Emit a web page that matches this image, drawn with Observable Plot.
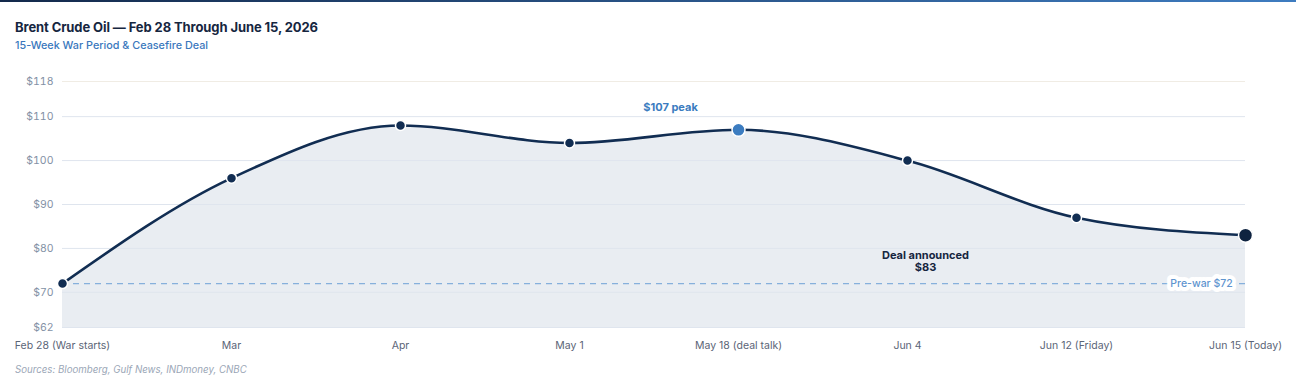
<!DOCTYPE html>
<html>
<head>
<meta charset="utf-8">
<script src="https://cdn.jsdelivr.net/npm/d3@7"></script>
<script src="https://cdn.jsdelivr.net/npm/@observablehq/plot@0.6"></script>
<style>
  html, body { margin: 0; padding: 0; background: #fff; }
  body { width: 1296px; height: 384px; overflow: hidden; font-family: Inter, "Noto Sans", sans-serif; position: relative; }
  .topbar { position: absolute; left: 0; top: 0; width: 1296px; height: 2px; background: linear-gradient(90deg, #13294b, #3e7cc0); }
  .title { position: absolute; left: 15px; top: 19px; font-size: 13px; font-weight: 700; color: #16263f; letter-spacing: -0.1px; }
  .subtitle { position: absolute; left: 15px; top: 39px; font-size: 10.8px; font-weight: 500; color: #3a78bd; }
  #chart { position: absolute; left: 0; top: 60px; }
  .caption { position: absolute; left: 15px; top: 364px; font-size: 9.7px; font-style: italic; color: #9aa6b6; }
</style>
</head>
<body>
<div class="topbar"></div>
<div class="title">Brent Crude Oil — Feb 28 Through June 15, 2026</div>
<div class="subtitle">15-Week War Period &amp; Ceasefire Deal</div>
<div id="chart"></div>
<div class="caption">Sources: Bloomberg, Gulf News, INDmoney, CNBC</div>
<script>
// Brent price checkpoints (USD per barrel)
const dates = ["Feb 28 (War starts)", "Mar", "Apr", "May 1", "May 18 (deal talk)", "Jun 4", "Jun 12 (Friday)", "Jun 15 (Today)"];
const prices = [72, 96, 108, 104, 107, 100, 87, 83];
const yTicks = [62, 70, 80, 90, 100, 110, 118];
const preWar = 72;
const peakDate = "May 18 (deal talk)";
const peakPrice = 107;
const dealDate = "Jun 4";
const dealPrice = 83;
const todayDate = "Jun 15 (Today)";

const rows = dates.map((d, i) => ({date: d, price: prices[i]}));
const regular = rows.filter(r => r.date !== peakDate && r.date !== todayDate);
const today = rows.filter(r => r.date === todayDate);
const peak = [{date: peakDate, price: peakPrice}];

const navy = "#112d52";
const blue = "#3b7cc0";

const chart = Plot.plot({
  width: 1296,
  height: 300,
  marginLeft: 62,
  marginRight: 51,
  marginTop: 21,
  marginBottom: 33,
  style: {fontFamily: "Inter, 'Noto Sans', sans-serif", fontSize: "10.5px", background: "transparent"},
  x: {type: "point", domain: dates, padding: 0, label: null},
  y: {domain: [62, 118], label: null},
  marks: [
    Plot.areaY(rows, {x: "date", y1: 62, y2: "price", curve: "monotone-x", fill: "#e9edf2"}),
    Plot.ruleY(yTicks.filter(t => t !== 118), {stroke: "#dfe5ee", strokeWidth: 1}),
    Plot.ruleY([118], {stroke: "#f0ece4", strokeWidth: 1}),
    Plot.ruleY([preWar], {stroke: "#86b0dc", strokeWidth: 1.3, strokeDasharray: "6,5"}),
    Plot.line(rows, {x: "date", y: "price", curve: "monotone-x", stroke: navy, strokeWidth: 2.6}),
    Plot.dot(regular, {x: "date", y: "price", r: 5, fill: navy, stroke: "#fff", strokeWidth: 1.5}),
    Plot.dot(today, {x: "date", y: "price", r: 7, fill: "#0e2340", stroke: "#fff", strokeWidth: 1.5}),
    Plot.dot(peak, {x: "date", y: "price", r: 6.5, fill: blue, stroke: "#fff", strokeWidth: 1.5}),
    Plot.text(peak, {x: "date", y: "price", text: d => `$${d.price} peak`, dx: -68, dy: -22, fill: blue, fontWeight: 700, fontSize: 11}),
    Plot.text([{date: dealDate, price: dealPrice}], {x: "date", y: "price", text: d => `Deal announced\n$${d.price}`, dx: 18, dy: 26, fill: "#16263f", fontWeight: 700, fontSize: 11, lineHeight: 1.1}),
    Plot.text([{date: todayDate, price: preWar}], {x: "date", y: "price", text: d => `Pre-war $${d.price}`, dx: -44, fill: "#5f95cf", fontSize: 10.5, fontWeight: 500, stroke: "#fff", strokeWidth: 8, strokeLinejoin: "round"}),
    Plot.axisX({tickSize: 0, tickPadding: 14, fill: "#5b6577"}),
    Plot.axisY({ticks: yTicks, tickSize: 0, tickPadding: 9, tickFormat: d => "$" + d, fill: "#8391a5"})
  ]
});
document.getElementById("chart").appendChild(chart);
</script>
</body>
</html>
